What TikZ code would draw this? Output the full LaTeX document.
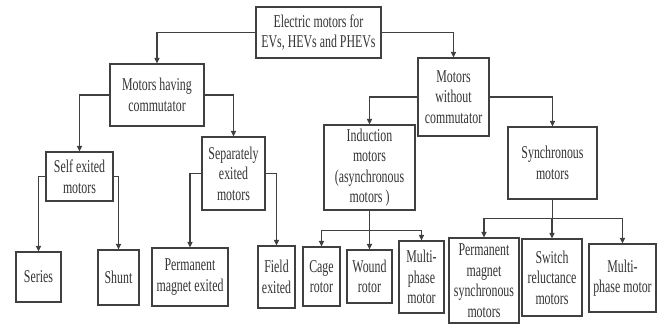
\documentclass[tikz,border=0pt]{standalone}
\usepackage{fontspec}
\setmainfont{Liberation Serif}[FakeStretch=0.66]
\usetikzlibrary{arrows.meta}

\begin{document}
\begin{tikzpicture}[
  x=1pt, y=-1pt,
  every node/.style={font=\fontsize{18}{20.5}\selectfont, text=black!80},
  box/.style={rectangle, draw=black!75, line width=1.1pt, align=center, inner sep=1pt},
  size/.style 2 args={minimum width=#1pt, minimum height=#2pt},
  arrow/.style={-{Triangle[length=5.5pt, width=5pt]}, line width=1.1pt, draw=black!75}
]
\useasboundingbox (0,0) rectangle (664,325);

% top levels
\node[box, size={125}{51}] (root) at (318.5,32.5) {Electric motors for\\EVs, HEVs and PHEVs};
\node[box, size={94}{62}] (comm) at (157,95) {Motors having\\commutator};
\node[box, size={71}{78}] (nocomm) at (453.5,97) {Motors\\without\\commutator};

\node[box, size={67}{49}] (self) at (79.5,176.5) {Self exited\\motors};
\node[box, size={63}{73}] (sep) at (233.5,173.5) {Separately\\exited\\motors};
\node[box, size={91}{85}] (ind) at (369.5,167.5) {Induction\\motors\\(asynchronous\\motors )};
\node[box, size={89}{72}] (sync) at (552.5,163) {Synchronous\\motors};

% leaves
\node[box, size={45}{50}] (series) at (38.5,277) {Series};
\node[box, size={41}{55}] (shunt) at (118.5,277.5) {Shunt};
\node[box, size={76}{58}] (pmex) at (190,277) {Permanent\\magnet exited};
\node[box, size={37}{62}] (field) at (276.5,277) {Field\\exited};
\node[box, size={37}{59}] (cage) at (321.5,276.5) {Cage\\rotor};
\node[box, size={45}{53}] (wound) at (369.5,276.5) {Wound\\rotor};
\node[box, size={45}{72}] (multiA) at (421.5,277) {Multi-\\phase\\motor};
\node[box, size={70}{85}] (pmsync) at (484,280.5) {Permanent\\magnet\\synchronous\\motors};
\node[box, size={60}{77}] (switch) at (552,277.5) {Switch\\reluctance\\motors};
\node[box, size={67}{68}] (multiB) at (622.5,278) {Multi-\\phase motor};

\draw[arrow] (root.west) -| (comm.north);
\draw[arrow] (root.east) -| (nocomm.north);
\draw[arrow] (comm.west) -| (self.north);
\draw[arrow] (comm.east) -| (sep.north);
\draw[arrow] (nocomm.west) -| (ind.north);
\draw[arrow] (nocomm.east) -| (sync.north);
\draw[arrow] (self.west) -| (series.north);
\draw[arrow] (self.east) -| (shunt.north);
\draw[arrow] (sep.west) -| (pmex.north);
\draw[arrow] (sep.east) -| (field.north);
\foreach \c in {cage, wound, multiA}
  \draw[arrow] (ind.south) -- ++(0,20) -| (\c.north);
\foreach \c in {pmsync, switch, multiB}
  \draw[arrow] (sync.south) -- ++(0,19) -| (\c.north);

\end{tikzpicture}
\end{document}
